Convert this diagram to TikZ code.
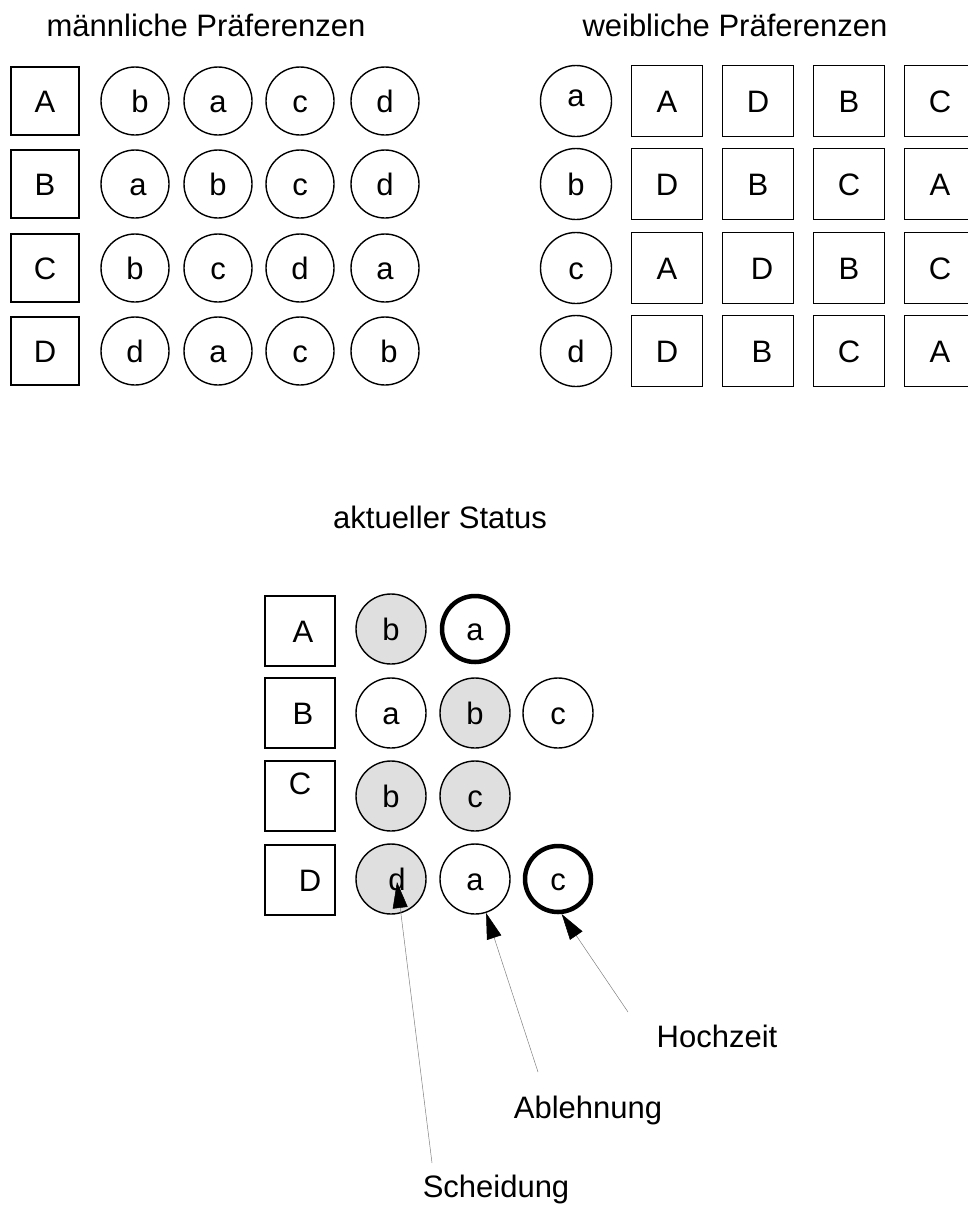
\documentclass[tikz,border=0pt]{standalone}
\usepackage{fontspec}
\setmainfont{Liberation Sans}
\usetikzlibrary{arrows.meta}

\tikzset{
  mann/.style={draw, rectangle, line width=1.4pt, inner sep=0pt, text height=22pt, text depth=0pt},
  frau/.style={draw, circle, line width=1.4pt, inner sep=0pt, text height=22pt, text depth=0pt},
  grau/.style={fill=gray!25},
  dick/.style={line width=4.5pt},
  pfeil/.style={draw=gray, line width=0.5pt, -{Triangle[length=26pt,width=15pt,color=black]}}
}

\begin{document}
\begin{tikzpicture}[x=1pt, y=-1pt, font=\fontsize{31}{37}\selectfont]
    \useasboundingbox (0,0) rectangle (967,1205);
    \node[anchor=base] (titel-m) at (206,36) {männliche Präferenzen};
    \node[anchor=base] (titel-w) at (735,36) {weibliche Präferenzen};
    \node[anchor=base] (titel-s) at (440,528) {aktueller Status};
  % maennliche Praeferenzen
  \begin{scope}[every node/.append style={minimum size=68pt}]
    \node[mann] (mA) at (45,101) {A};
    \node[frau] (mA1) at (135,101) {\hspace{10pt}b};
    \node[frau] (mA2) at (218,101) {a};
    \node[frau] (mA3) at (300,101) {c};
    \node[frau] (mA4) at (385,101) {d};
    \node[mann] (mB) at (45,184) {B};
    \node[frau] (mB1) at (135,184) {\hspace{6pt}a};
    \node[frau] (mB2) at (218,184) {b};
    \node[frau] (mB3) at (300,184) {c};
    \node[frau] (mB4) at (385,184) {d};
    \node[mann] (mC) at (45,268) {C};
    \node[frau] (mC1) at (135,268) {b};
    \node[frau] (mC2) at (218,268) {c};
    \node[frau] (mC3) at (300,268) {d};
    \node[frau] (mC4) at (385,268) {a};
    \node[mann] (mD) at (45,351) {D};
    \node[frau] (mD1) at (135,351) {d};
    \node[frau] (mD2) at (218,351) {a};
    \node[frau] (mD3) at (300,351) {c};
    \node[frau] (mD4) at (385,351) {\hspace{8pt}b};
  \end{scope}
  % weibliche Praeferenzen
  \begin{scope}[every node/.append style={minimum size=71pt}]
    \node[frau] (wa) at (576,101) {\raisebox{6pt}{a}};
    \node[mann] (wa1) at (667,101) {A};
    \node[mann] (wa2) at (758,101) {D};
    \node[mann] (wa3) at (849,101) {B};
    \node[mann] (wa4) at (940,101) {C};
    \node[frau] (wb) at (576,184) {b};
    \node[mann] (wb1) at (667,184) {D\hspace{6pt}};
    \node[mann] (wb2) at (758,184) {B};
    \node[mann] (wb3) at (849,184) {C};
    \node[mann] (wb4) at (940,184) {A};
    \node[frau] (wc) at (576,268) {c};
    \node[mann] (wc1) at (667,268) {A};
    \node[mann] (wc2) at (758,268) {\hspace{8pt}D};
    \node[mann] (wc3) at (849,268) {B};
    \node[mann] (wc4) at (940,268) {C};
    \node[frau] (wd) at (576,351) {d};
    \node[mann] (wd1) at (667,351) {D};
    \node[mann] (wd2) at (758,351) {\hspace{8pt}B};
    \node[mann] (wd3) at (849,351) {C};
    \node[mann] (wd4) at (940,351) {A};
  \end{scope}
  % aktueller Status
  \begin{scope}[every node/.append style={minimum size=70pt}]
    \node[mann] (sA) at (300,631) {\hspace{6pt}A};
    \node[frau,grau] (sA1) at (391,629) {b};
    \node[frau,dick,minimum size=66pt] (sA2) at (475,629) {a};
    \node[mann] (sB) at (300,713) {\hspace{6pt}B};
    \node[frau] (sB1) at (391,713) {a};
    \node[frau,grau] (sB2) at (475,713) {b};
    \node[frau] (sB3) at (558,713) {c};
    \node[mann] (sC) at (300,796) {\raisebox{13pt}{C}\hspace{10pt}};
    \node[frau,grau] (sC1) at (391,796) {b};
    \node[frau,grau] (sC2) at (475,796) {c};
    \node[mann] (sD) at (300,880) {\hspace{20pt}D};
    \node[frau,grau] (sD1) at (391,879) {\hspace{12pt}d};
    \node[frau] (sD2) at (475,879) {a};
    \node[frau,dick,minimum size=66pt] (sD3) at (558,879) {c};
  \end{scope}
    \node[anchor=base] (hochzeit) at (717,1047) {Hochzeit};
    \node[anchor=base] (ablehnung) at (588,1118) {Ablehnung};
    \node[anchor=base] (scheidung) at (496,1197) {Scheidung};
    \coordinate (hochzeit-von) at (628,1012);
    \coordinate (ablehnung-von) at (538,1072);
    \coordinate (scheidung-von) at (432,1163);
    \draw[pfeil] (hochzeit-von) -- (sD3.276);
    \draw[pfeil] (ablehnung-von) -- (sD2);
    \draw[pfeil] (scheidung-von) -- ([xshift=6pt,yshift=-3pt]sD1.center);
  \end{tikzpicture}
\end{document}
